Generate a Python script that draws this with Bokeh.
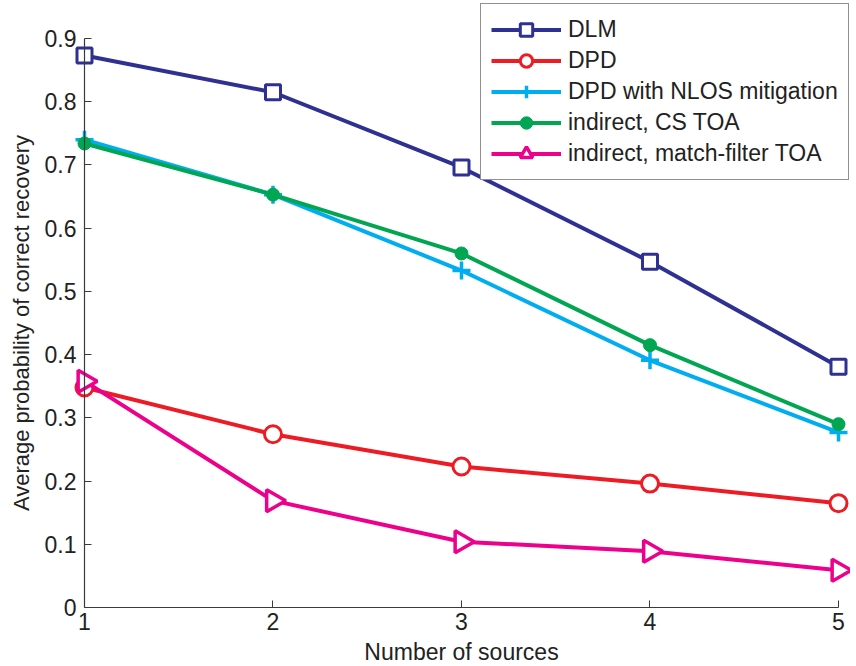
import math
from bokeh.plotting import figure
from bokeh.models import Legend, LegendItem, FixedTicker
from bokeh.embed import file_html
from bokeh.resources import INLINE

sources = [1, 2, 3, 4, 5]
dlm = [0.873, 0.815, 0.696, 0.547, 0.381]
dpd = [0.348, 0.274, 0.223, 0.196, 0.165]
dpd_nlos = [0.740, 0.653, 0.533, 0.391, 0.277]
cs_toa = [0.734, 0.653, 0.560, 0.415, 0.290]
mf_toa = [0.358, 0.169, 0.104, 0.089, 0.059]
x_ticks = [1, 2, 3, 4, 5]
y_ticks = [0, 0.1, 0.2, 0.3, 0.4, 0.5, 0.6, 0.7, 0.8, 0.9]

FONT = "Liberation Sans"
FS = "23px"

p = figure(width=850, height=666, output_backend="svg", toolbar_location=None,
           x_range=(0.5544, 5.0637), y_range=(-0.0933, 0.9601),
           min_border_left=0, min_border_right=0, min_border_top=0, min_border_bottom=0)
p.outline_line_color = None
p.xgrid.visible = False
p.ygrid.visible = False

p.yaxis.fixed_location = 1
p.xaxis.fixed_location = 0

for ax in (p.xaxis, p.yaxis):
    ax.axis_line_color = "#3a3a3a"
    ax.axis_line_width = 1.2
    ax.major_tick_line_color = "#3a3a3a"
    ax.major_tick_in = 7
    ax.major_tick_out = 0
    ax.minor_tick_line_color = None
    ax.major_label_text_font = FONT
    ax.major_label_text_font_size = FS
    ax.major_label_text_color = "#222222"
    ax.axis_label_text_font = FONT
    ax.axis_label_text_font_size = FS
    ax.axis_label_text_font_style = "normal"
    ax.axis_label_text_color = "#222222"

p.xaxis.ticker = FixedTicker(ticks=x_ticks)
p.xaxis.bounds = (1, 5)
p.xaxis.major_label_standoff = 5
p.xaxis.axis_label_standoff = 6
p.yaxis.ticker = FixedTicker(ticks=y_ticks)
p.yaxis.bounds = (0, 0.9)
p.yaxis.major_label_overrides = {0: "0"}
p.yaxis.major_label_standoff = 8
p.yaxis.axis_label_standoff = 8
p.yaxis.axis_label_text_font_size = "22px"
p.xaxis.axis_label = "Number of sources"
p.yaxis.axis_label = "Average probability of correct recovery"

LW = 4
items = []

c = "#2e3192"
l1 = p.line(sources, dlm, line_color=c, line_width=LW)
m1 = p.scatter(sources, dlm, marker="square", size=15, line_color=c, fill_color="white", line_width=3)
items.append(LegendItem(label="DLM", renderers=[l1, m1]))

c = "#ed1c24"
l2 = p.line(sources, dpd, line_color=c, line_width=LW)
m2 = p.scatter(sources, dpd, marker="circle", size=17, line_color=c, fill_color="white", line_width=3)
items.append(LegendItem(label="DPD", renderers=[l2, m2]))

c = "#00aeef"
l3 = p.line(sources, dpd_nlos, line_color=c, line_width=LW)
m3 = p.scatter(sources, dpd_nlos, marker="cross", size=18, line_color=c, line_width=3.5)
items.append(LegendItem(label="DPD with NLOS mitigation", renderers=[l3, m3]))

c = "#00a651"
l4 = p.line(sources, cs_toa, line_color=c, line_width=LW)
m4 = p.scatter(sources, cs_toa, marker="circle", size=13, line_color=c, fill_color=c, line_width=1)
items.append(LegendItem(label="indirect, CS TOA", renderers=[l4, m4]))

c = "#ec008c"
l5 = p.line(sources, mf_toa, line_color=c, line_width=LW)
m5 = p.scatter(sources, mf_toa, marker="triangle", size=22, angle=-math.pi / 2,
               line_color=c, fill_color="white", line_width=3.5)
items.append(LegendItem(label="indirect, match-filter TOA", renderers=[l5, m5]))

legend = Legend(items=items, location=(480, 486))
legend.label_text_font = FONT
legend.label_text_font_size = FS
legend.label_text_color = "#222222"
legend.glyph_width = 70
legend.glyph_height = 31
legend.label_height = 24
legend.label_standoff = 7
legend.spacing = 0
legend.padding = 10
legend.margin = 0
legend.border_line_color = "#222222"
legend.border_line_width = 1.5
legend.background_fill_alpha = 1
p.add_layout(legend)

open("out.html", "w").write(file_html(p, INLINE))
